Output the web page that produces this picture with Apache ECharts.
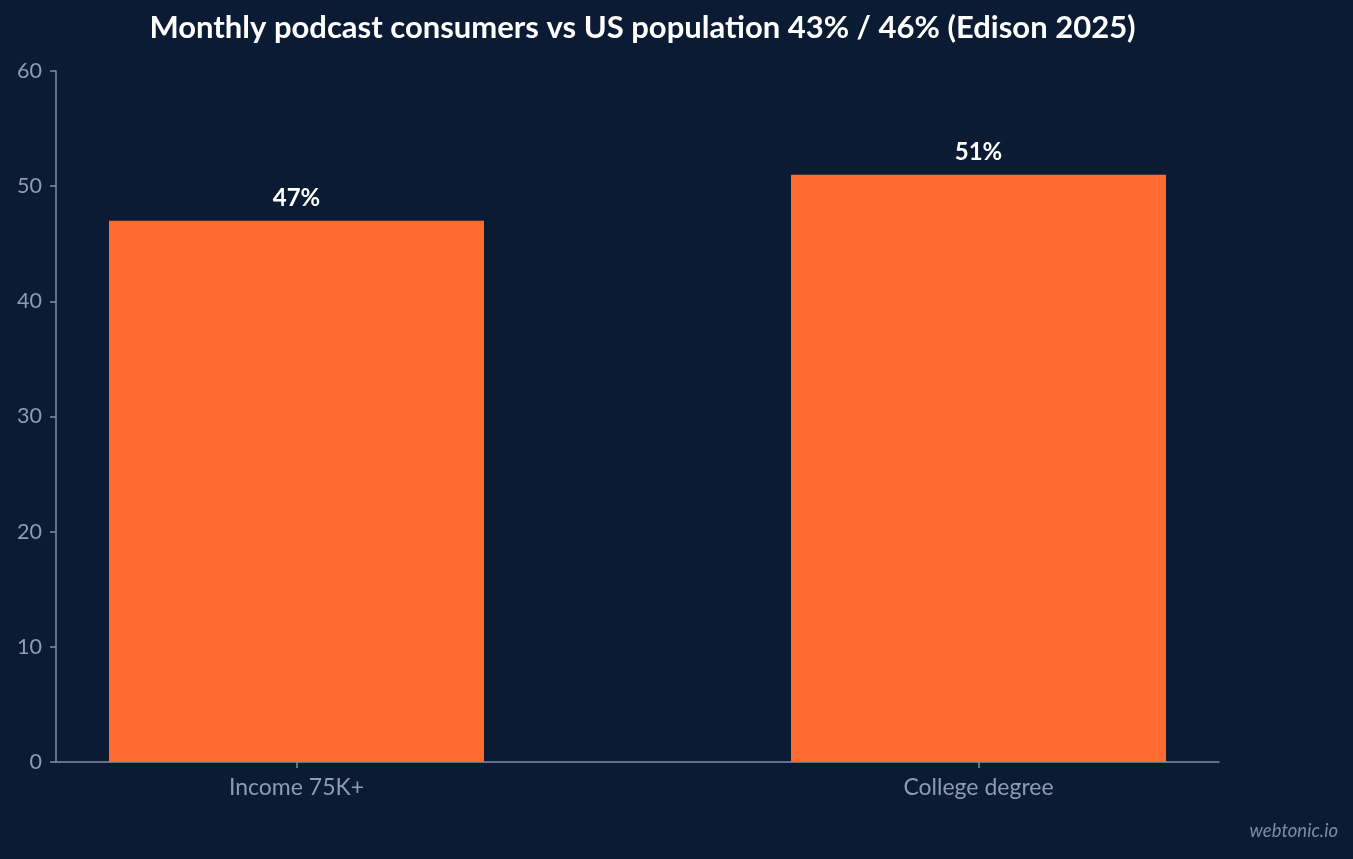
<!DOCTYPE html>
<html><head><meta charset="utf-8">
<script src="https://cdn.jsdelivr.net/npm/echarts@6/dist/echarts.min.js"></script>
<style>html,body{margin:0;padding:0;background:#0b1b33;}#c{width:1353px;height:859px;}</style>
</head><body><div id="c"></div>
<script>
const categories = ['Income 75K+', 'College degree'];
const values = [47, 51];
const yTicks = { min: 0, max: 60, interval: 10 };
const titleText = 'Monthly podcast consumers vs US population 43% / 46% (Edison 2025)';
const watermark = 'webtonic.io';

const chart = echarts.init(document.getElementById('c'));
const axisColor = '#7f8ea8';
const labelColor = '#8d9bb3';
chart.setOption({
  backgroundColor: '#0b1b33',
  animation: false,
  title: [{
    text: titleText, left: 637.5, textAlign: 'center', top: 7,
    textStyle: { color: '#ffffff', fontFamily: 'Lato', fontWeight: 'bold', fontSize: 31 }
  }, {
    text: watermark, right: 10, bottom: 13,
    textStyle: { color: '#7d8ba3', fontFamily: 'Lato', fontStyle: 'italic', fontWeight: 'normal', fontSize: 18.5 }
  }],
  grid: [
    { left: 56, right: 134, top: 71, bottom: 97, outerBoundsMode: 'none' },
    { left: -44.5, right: 33.5, top: 71, bottom: 97, outerBoundsMode: 'none' }
  ],
  xAxis: [{
    gridIndex: 0, type: 'category', data: categories,
    axisLine: { show: true, lineStyle: { color: axisColor, width: 1.5 } },
    axisTick: { show: false }, axisLabel: { show: false }, splitLine: { show: false }
  }, {
    gridIndex: 1, type: 'category', data: categories,
    axisLine: { show: false },
    axisTick: { show: true, alignWithLabel: true, length: 6, lineStyle: { color: axisColor, width: 1.5 } },
    axisLabel: { color: labelColor, fontFamily: 'Lato', fontSize: 23, margin: 14 },
    splitLine: { show: false }
  }],
  yAxis: [{
    gridIndex: 0, type: 'value', min: yTicks.min, max: yTicks.max, interval: yTicks.interval,
    axisLine: { show: true, lineStyle: { color: axisColor, width: 1.5 } },
    axisTick: { show: true, length: 6, lineStyle: { color: axisColor, width: 1.5 } },
    axisLabel: { color: labelColor, fontFamily: 'Lato', fontSize: 21.5, margin: 14 },
    splitLine: { show: false }
  }, {
    gridIndex: 1, type: 'value', min: yTicks.min, max: yTicks.max, interval: yTicks.interval,
    show: false, splitLine: { show: false }
  }],
  series: [{
    type: 'bar', xAxisIndex: 1, yAxisIndex: 1, data: values, barWidth: 375,
    itemStyle: { color: '#ff6b2e' },
    label: { show: true, position: 'top', distance: 10, formatter: '{c}%', color: '#ffffff',
      fontFamily: 'Lato', fontWeight: 'bold', fontSize: 24 }
  }]
});
</script></body></html>
